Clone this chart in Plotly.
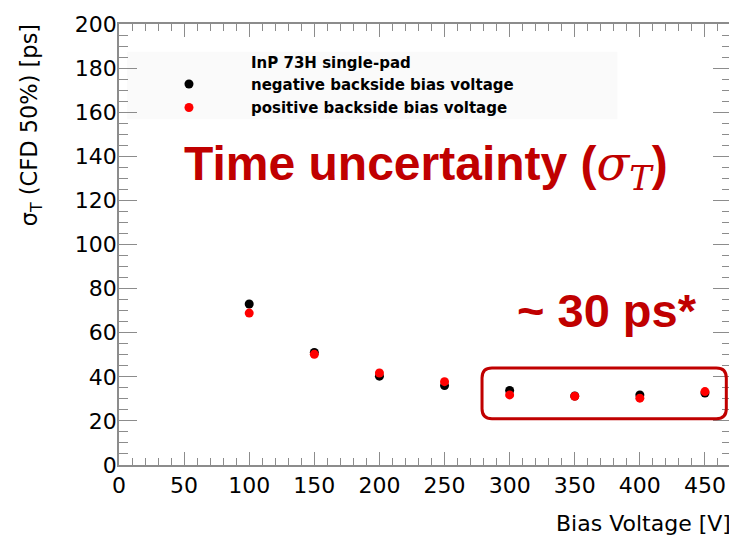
import plotly.graph_objects as go

# ---- data ----
bias_voltage = [100, 150, 200, 250, 300, 350, 400, 450]
sigma_negative = [73.0, 51.0, 40.3, 36.0, 33.8, 31.3, 31.8, 32.6]
sigma_positive = [68.9, 50.2, 41.7, 37.8, 31.8, 31.2, 30.3, 33.3]

legend_header = "InP 73H single-pad"
name_negative = "negative backside bias voltage"
name_positive = "positive backside bias voltage"

x_range = [0, 470]
y_range = [0, 200]

# page geometry (the page body has an 8px margin)
OFF = 8
PAGE_W, PAGE_H = 737, 541
W, H = PAGE_W - OFF, PAGE_H - OFF
# plot area in page pixels
PL, PR, PT, PB = 119, 733, 21, 465
L, R, T, B = PL - OFF, PAGE_W - PR, PT - OFF, PAGE_H - PB
PW, PH = PR - PL, PB - PT


def px(x):
    return (x - PL) / PW


def py(y):
    return (PB - y) / PH


RED = "#C00000"
AXIS = "#8c8c8c"

fig = go.Figure()
fig.add_trace(go.Scatter(
    x=bias_voltage, y=sigma_negative, mode="markers", name=name_negative,
    legendgroup="neg",
    marker=dict(color="black", size=9, line=dict(width=0)),
))
fig.add_trace(go.Scatter(
    x=bias_voltage, y=sigma_positive, mode="markers", name=name_positive,
    legendgroup="pos",
    marker=dict(color="#ff0000", size=9, line=dict(width=0)),
))

axis_common = dict(
    showgrid=False, zeroline=False, showline=True, linecolor=AXIS, linewidth=1.5,
    mirror="allticks", ticks="inside", tickcolor=AXIS, tickwidth=1.2,
    tickfont=dict(family="DejaVu Sans", size=22, color="black"),
)

fig.update_xaxes(
    range=x_range, dtick=50, tick0=0, ticklen=13,
    minor=dict(dtick=10, ticks="inside", ticklen=7, tickcolor=AXIS, tickwidth=1.2),
    **axis_common,
)
fig.update_yaxes(
    range=y_range, dtick=20, tick0=0, ticklen=18, ticklabelstandoff=-4,
    minor=dict(dtick=5, ticks="inside", ticklen=9, tickcolor=AXIS, tickwidth=1.2),
    **axis_common,
)

# legend background box
fig.add_shape(type="rect", xref="paper", yref="paper",
              x0=px(127), x1=px(619), y0=py(117), y1=py(49),
              fillcolor="#fafafa", line=dict(width=0), layer="below")

# rounded rectangle around plateau (data coords)
bx0, bx1, by0, by1 = 278.8, 466.4, 21.0, 44.0
rx, ry = 10 / (PW / (x_range[1] - x_range[0])), 10 / (PH / (y_range[1] - y_range[0]))
path = (f"M {bx0+rx},{by0} L {bx1-rx},{by0} Q {bx1},{by0} {bx1},{by0+ry} "
        f"L {bx1},{by1-ry} Q {bx1},{by1} {bx1-rx},{by1} "
        f"L {bx0+rx},{by1} Q {bx0},{by1} {bx0},{by1-ry} "
        f"L {bx0},{by0+ry} Q {bx0},{by0} {bx0+rx},{by0} Z")
fig.add_shape(type="path", path=path, xref="x", yref="y",
              line=dict(color=RED, width=3))

annotations = [
    dict(text="<b>" + legend_header + "</b>", x=px(249), y=py(60),
         xanchor="left", yanchor="middle",
         font=dict(family="DejaVu Sans", size=15, color="black")),
    dict(text="<b>Time uncertainty (</b><span style=\"font-family:'DejaVu Serif'\"><i>σ<sub>T</sub></i></span><b>)</b>",
         x=px(182), y=py(164), xanchor="left", yanchor="middle",
         font=dict(family="Liberation Sans", size=48, color=RED)),
    dict(text="<b>~ 30 ps*</b>", x=px(516), y=py(309), xanchor="left", yanchor="middle",
         font=dict(family="Liberation Sans", size=47, color=RED)),
    dict(text="σ<sub>T</sub> (CFD 50%) [ps]", x=px(31), y=py(19), textangle=-90,
         xanchor="center", yanchor="top",
         font=dict(family="DejaVu Sans", size=22.5, color="black")),
    dict(text="Bias Voltage [V]", x=px(735), y=py(524), xanchor="right", yanchor="middle",
         font=dict(family="DejaVu Sans", size=22, color="black")),
]
for a in annotations:
    a.update(xref="paper", yref="paper", showarrow=False)

fig.update_layout(
    width=W, height=H,
    margin=dict(l=L, r=R, t=T, b=B, pad=0),
    paper_bgcolor="white", plot_bgcolor="white",
    annotations=annotations,
    showlegend=True,
    legend=dict(x=px(127), y=py(65), xanchor="left", yanchor="top",
                bgcolor="rgba(0,0,0,0)", borderwidth=0, itemwidth=114,
                tracegroupgap=1,
                font=dict(family="DejaVu Sans", size=15, color="black")),
)
fig.for_each_trace(lambda t: t.update(name="<b>" + t.name + "</b>"))

fig.write_html("out.html")
